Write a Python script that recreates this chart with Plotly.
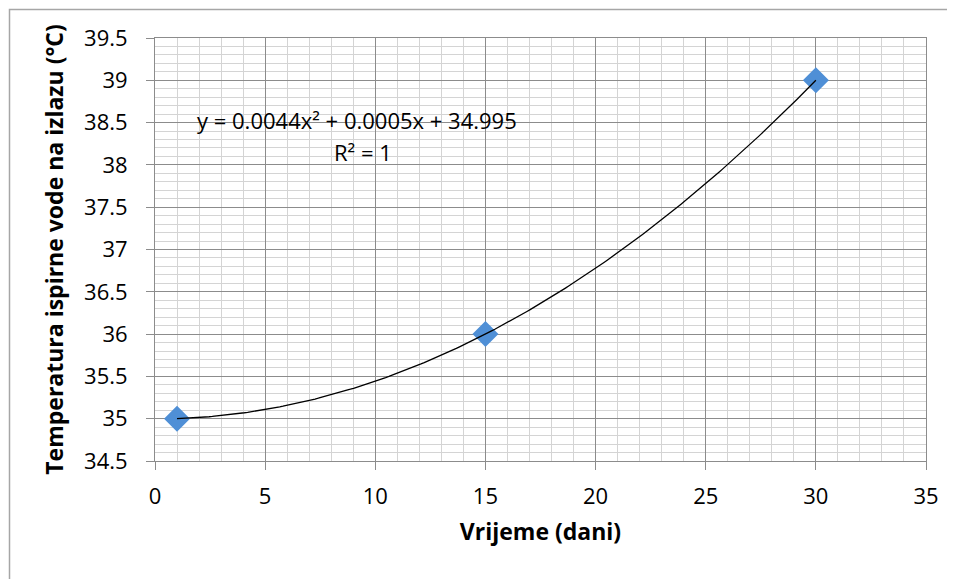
import numpy as np
import plotly.graph_objects as go

# Data
days = [1, 15, 30]
temps = [35, 36, 39]
x_ticks = [0, 5, 10, 15, 20, 25, 30, 35]
y_ticks = [34.5, 35, 35.5, 36, 36.5, 37, 37.5, 38, 38.5, 39, 39.5]
x_title = "Vrijeme (dani)"
y_title = "Temperatura ispirne vode na izlazu (°C)"
eq_line = "y = 0.0044x² + 0.0005x + 34.995"
r2_line = "R² = 1"

# Polynomial (order 2) trendline fitted to the data, as Excel does
coef = np.polyfit(days, temps, 2)
tx = np.linspace(min(days), max(days), 200)
ty = np.polyval(coef, tx)

FONT = "Open Sans"
fig = go.Figure()
fig.add_trace(go.Scatter(
    x=days, y=temps, mode="markers",
    marker=dict(symbol="diamond", size=20, color="#4f8fd6",
                line=dict(width=0)),
    showlegend=False, hoverinfo="x+y"))
fig.add_trace(go.Scatter(
    x=tx, y=ty, mode="lines",
    line=dict(color="black", width=1.3),
    showlegend=False, hoverinfo="skip"))

# page offset (html body margin) = 8 px
OFF = 8
L_abs, R_abs, T_abs, B_abs = 155, 926, 38, 461
W, H = 955, 579
L = L_abs - OFF
R = W - (R_abs - OFF)
T = T_abs - OFF
B = H - (B_abs - OFF)
pw, ph = R_abs - L_abs, B_abs - T_abs

def dx(px):
    return (px - L_abs) / pw * 35

def dy(py):
    return 39.5 - (py - T_abs) / ph * 5

fig.add_annotation(x=dx(357), y=dy(120), xref="x", yref="y", text=eq_line,
                   showarrow=False, font=dict(family=FONT, size=22, color="black"))
fig.add_annotation(x=dx(363), y=dy(152), xref="x", yref="y", text=r2_line,
                   showarrow=False, font=dict(family=FONT, size=22, color="black"))

grid_major = "#8c8c8c"
grid_minor = "#d4d4d4"
axis_common = dict(
    showline=True, linecolor=grid_major, linewidth=1, mirror=True,
    ticks="outside", ticklen=8, tickcolor=grid_major, tickwidth=1,
    showgrid=True, gridcolor=grid_major, gridwidth=1,
    zeroline=False,
    tickfont=dict(family=FONT, size=22, color="black"),
)
fig.update_xaxes(**axis_common, range=[0, 35], tickvals=x_ticks,
                 ticktext=[str(v) for v in x_ticks], ticklabelstandoff=8,
                 minor=dict(dtick=1, showgrid=True, gridcolor=grid_minor, gridwidth=1, ticks=""),
                 title=dict(text="<b>" + x_title + "</b>", standoff=14,
                            font=dict(family=FONT, size=23, color="black")))
fig.update_yaxes(**axis_common, range=[34.5, 39.5], tickvals=y_ticks,
                 ticktext=[f"{v:g}" for v in y_ticks], ticklabelstandoff=14,
                 minor=dict(dtick=0.1, showgrid=True, gridcolor=grid_minor, gridwidth=1, ticks=""),
                 title=dict(text="<b>" + y_title + "</b>", standoff=14,
                            font=dict(family=FONT, size=23, color="black")))

# outer chart-area border (Excel style), extends past the window bottom/right
x0 = (9.5 - L_abs) / pw
x1 = (W + 10 - L_abs) / pw
y1 = (B_abs - 9.5) / ph
y0 = (B_abs - (H + 10)) / ph
fig.add_shape(type="rect", xref="paper", yref="paper", x0=x0, x1=x1, y0=y0, y1=y1,
              line=dict(color="#a6a6a6", width=1.5), layer="below")

fig.update_layout(
    width=W, height=H,
    margin=dict(l=L, r=R, t=T, b=B),
    paper_bgcolor="white", plot_bgcolor="white",
    font=dict(family=FONT, color="black"),
    showlegend=False,
)
fig.write_html("out.html")
